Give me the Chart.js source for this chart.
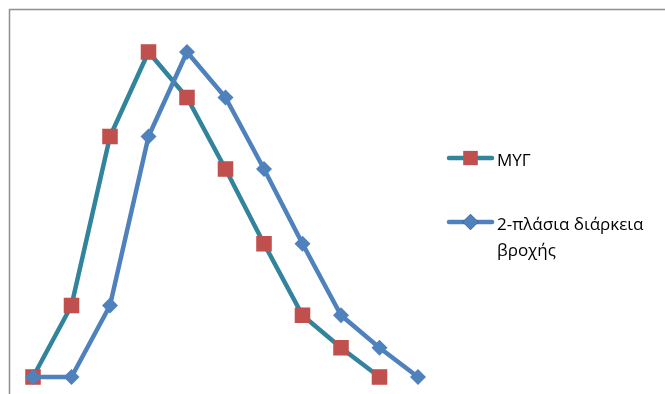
<!DOCTYPE html>
<html lang="el">
<head>
    <meta charset="UTF-8">
    <title>ΜΥΓ</title>
    <script src="https://cdn.jsdelivr.net/npm/chart.js"></script>
    <style>
        html, body { margin: 0; padding: 0; background: #fff; }
        #wrap { width: 665px; height: 394px; }
    </style>
</head>
<body>
<div id="wrap"><canvas id="chart" width="665" height="394"></canvas></div>

<script>
    // time steps (axis is hidden in the original)
    const labels = ['1', '2', '3', '4', '5', '6', '7', '8', '9', '10', '11'];
    // ordinates
    const myg = [0, 22, 74, 100, 86, 64, 41, 19, 9, 0];
    const doubleDuration = [0, 0, 22, 74, 100, 86, 64, 41, 19, 9, 0];
    const seriesNames = ['ΜΥΓ', ['2-πλάσια διάρκεια', 'βροχής']];

    // frame + legend drawn by hand (Excel style: line with marker in the middle)
    const excelLook = {
        id: 'excelLook',
        beforeDraw(chart) {
            const ctx = chart.ctx;
            ctx.save();
            ctx.strokeStyle = '#8f8f8f';
            ctx.lineWidth = 1.5;
            ctx.strokeRect(9.5, 9.5, 700, 420);
            ctx.restore();
        },
        afterDraw(chart) {
            const ctx = chart.ctx;
            const rows = [158, 222];
            ctx.save();
            chart.data.datasets.forEach((ds, i) => {
                const y = rows[i];
                ctx.strokeStyle = ds.borderColor;
                ctx.lineWidth = ds.borderWidth;
                ctx.lineCap = 'round';
                ctx.beginPath();
                ctx.moveTo(449, y);
                ctx.lineTo(492, y);
                ctx.stroke();
                Chart.helpers.drawPoint(ctx, {
                    pointStyle: ds.pointStyle,
                    radius: ds.legendRadius,
                    borderWidth: 0
                }, 470.5, y);
                ctx.fillStyle = ds.pointBackgroundColor;
                ctx.fill();
                ctx.fillStyle = '#000';
                ctx.font = '17px "Open Sans", sans-serif';
                ctx.textBaseline = 'middle';
                const text = [].concat(seriesNames[i]);
                text.forEach((t, k) => ctx.fillText(t, 497, y + 3 + k * 26));
            });
            ctx.restore();
        }
    };

    const ctx = document.getElementById('chart').getContext('2d');
    new Chart(ctx, {
        type: 'line',
        data: {
            labels: labels,
            datasets: [{
                label: 'ΜΥΓ',
                data: myg,
                borderColor: '#31849B',
                borderWidth: 4.5,
                pointStyle: 'rect',
                pointRadius: 11,
                legendRadius: 10,
                pointBackgroundColor: '#C0504D',
                pointBorderColor: '#C0504D',
                pointBorderWidth: 0,
                tension: 0,
                clip: false,
                order: 1
            }, {
                label: '2-πλάσια διάρκεια βροχής',
                data: doubleDuration,
                borderColor: '#4F81BD',
                borderWidth: 4.5,
                pointStyle: 'rectRot',
                pointRadius: 8,
                legendRadius: 8,
                pointBackgroundColor: '#4F81BD',
                pointBorderColor: '#4F81BD',
                pointBorderWidth: 0,
                tension: 0,
                clip: false,
                order: 0
            }]
        },
        options: {
            responsive: false,
            animation: false,
            layout: { padding: { left: 33, right: 247, top: 52, bottom: 17 } },
            plugins: {
                legend: { display: false },
                tooltip: { enabled: false }
            },
            scales: {
                x: { display: false, offset: false },
                y: { display: false, min: 0, max: 100 }
            }
        },
        plugins: [excelLook]
    });
</script>
</body>
</html>
